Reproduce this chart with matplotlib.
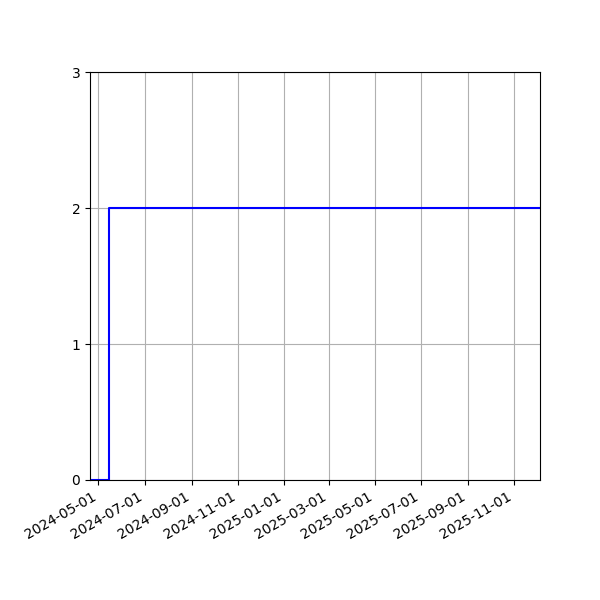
import matplotlib
matplotlib.use("Agg")
import matplotlib.pyplot as plt
import matplotlib.dates as mdates
import pandas as pd

dates = ["2024-04-20", "2024-05-15", "2025-12-05"]
values = [0, 2, 2]
yticks = [0, 1, 2, 3]

x = pd.to_datetime(dates)

fig, ax = plt.subplots(figsize=(6, 6), dpi=100)
fig.subplots_adjust(left=0.15, right=0.9, top=0.88, bottom=0.2)
ax.step(x, values, where="post", color="blue", linewidth=1.5)
ax.set_xlim(x[0], x[-1])
ax.set_ylim(0, 3)
ax.set_yticks(yticks)
ax.xaxis.set_major_locator(mdates.MonthLocator(bymonth=[1, 3, 5, 7, 9, 11]))
ax.xaxis.set_major_formatter(mdates.DateFormatter("%Y-%m-%d"))
ax.grid(True)
for lbl in ax.get_xticklabels():
    lbl.set_rotation(30)
    lbl.set_ha("right")
fig.savefig("out.png", dpi=100)
